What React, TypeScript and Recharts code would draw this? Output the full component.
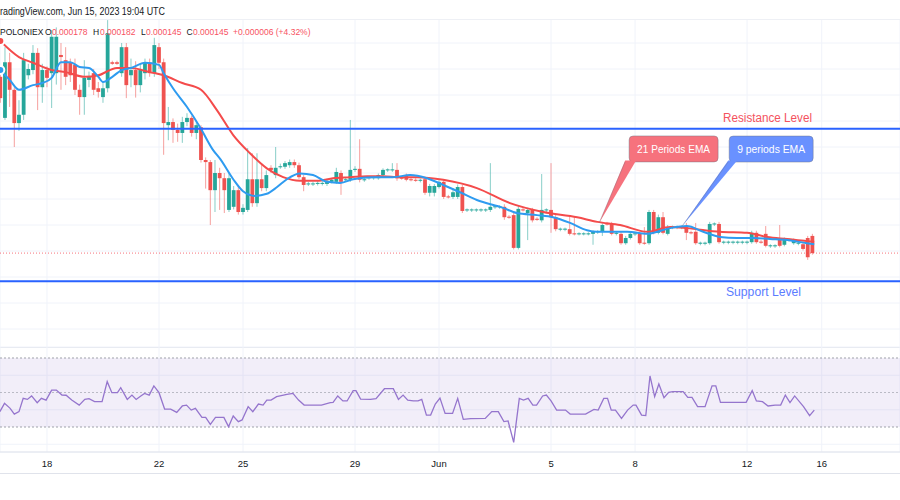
import React from 'react';
import {
  ComposedChart,
  Bar,
  Line,
  XAxis,
  YAxis,
  CartesianGrid,
  ReferenceLine,
  ReferenceArea,
  ReferenceDot,
} from 'recharts';

// ---- data (prices in units of 1e-6) ----
const FIRST_SLOT = -10; // 4h slots counted from May 18 00:00

// [open, high, low, close]
const candles: [number, number, number, number][] = [
  [178.5, 179.5, 173.5, 174.4], [170.6, 184.2, 170.2, 181.3], [181.3, 183.1, 172.7, 176.0], [176.0, 176.5, 165.0, 169.6],
  [169.6, 174.0, 168.1, 171.2], [171.2, 183.1, 170.2, 181.7], [178.8, 181.0, 178.0, 180.0], [179.8, 184.6, 179.0, 183.1],
  [183.1, 184.0, 172.1, 176.5], [176.5, 181.0, 173.5, 179.8], [179.8, 180.5, 176.5, 178.3], [179.2, 187.5, 172.5, 186.2],
  [179.2, 188.0, 177.0, 186.2], [182.7, 185.0, 176.0, 182.3], [181.7, 184.2, 176.9, 178.5], [181.2, 182.0, 177.5, 178.8],
  [180.8, 182.0, 175.0, 176.0], [176.0, 177.0, 171.2, 174.6], [174.6, 181.7, 171.2, 178.3], [177.9, 179.5, 176.5, 178.5],
  [179.2, 180.0, 175.0, 176.0], [176.3, 177.5, 174.5, 175.6], [174.6, 177.5, 173.5, 176.3], [176.3, 189.4, 175.5, 186.9],
  [181.3, 181.6, 180.8, 181.0], [181.3, 181.6, 180.8, 181.0], [179.2, 185.0, 178.5, 184.2], [184.2, 185.0, 174.4, 176.9],
  [178.8, 182.0, 176.5, 179.8], [179.8, 181.5, 174.5, 176.9], [176.9, 181.0, 175.5, 179.8], [179.2, 182.0, 178.0, 181.2],
  [181.2, 182.0, 178.5, 179.2], [179.2, 186.0, 178.5, 184.6], [184.2, 185.0, 180.0, 181.2], [181.3, 182.0, 163.5, 169.6],
  [169.2, 172.7, 166.3, 169.8], [169.8, 170.5, 165.8, 168.3], [168.3, 169.5, 166.0, 167.7], [167.7, 170.8, 165.8, 169.8],
  [169.8, 171.5, 169.0, 170.6], [170.6, 171.0, 167.0, 167.7], [167.7, 170.0, 166.5, 169.2], [168.8, 169.2, 162.0, 162.5],
  [162.5, 163.0, 157.0, 162.1], [162.1, 162.5, 150.0, 156.7], [156.7, 162.5, 152.5, 160.0], [160.0, 161.0, 152.9, 159.0],
  [159.0, 160.0, 152.3, 156.7], [152.9, 160.0, 152.5, 159.0], [153.5, 157.5, 153.0, 156.7], [156.7, 157.5, 152.0, 152.5],
  [152.5, 154.0, 152.0, 153.3], [152.9, 164.8, 152.5, 158.8], [158.8, 163.8, 153.5, 154.2], [154.2, 163.8, 153.5, 158.8],
  [158.8, 161.9, 156.5, 157.1], [157.1, 160.5, 156.5, 159.6], [161.0, 161.5, 160.0, 160.6], [159.6, 165.0, 159.0, 161.0],
  [161.1, 161.8, 160.8, 161.3], [161.2, 162.3, 160.8, 161.9], [161.5, 162.6, 161.0, 162.1], [162.1, 162.6, 161.0, 161.5],
  [161.5, 162.0, 158.8, 159.2], [159.2, 159.6, 156.5, 157.7], [157.8, 158.3, 157.5, 158.0], [157.8, 158.3, 157.5, 158.0],
  [157.9, 158.4, 157.6, 158.1], [157.9, 158.4, 157.6, 158.1], [157.9, 158.9, 157.5, 158.5], [158.3, 159.0, 158.0, 158.7],
  [158.3, 161.0, 157.9, 160.2], [160.0, 160.5, 155.8, 158.3], [158.6, 159.2, 158.3, 158.8], [158.7, 170.2, 158.3, 160.6],
  [160.6, 161.3, 160.2, 160.8], [160.8, 166.5, 158.2, 158.7], [158.6, 159.0, 158.3, 158.8], [159.0, 159.4, 158.7, 159.2],
  [159.0, 159.4, 158.7, 159.2], [159.0, 159.9, 158.7, 159.6], [159.6, 160.9, 159.3, 160.6], [160.5, 160.9, 160.2, 160.7],
  [160.5, 161.9, 160.2, 160.7], [160.6, 161.9, 158.5, 159.0], [159.1, 159.4, 158.7, 158.9], [159.6, 159.9, 158.4, 158.7],
  [158.8, 159.1, 158.4, 158.6], [158.7, 159.0, 158.3, 158.5], [158.5, 158.9, 158.2, 158.7], [158.8, 159.2, 155.8, 156.2],
  [156.2, 157.9, 155.5, 157.5], [156.2, 157.9, 155.5, 157.5], [157.3, 158.6, 157.0, 158.3], [158.3, 158.8, 155.0, 155.4],
  [155.5, 155.8, 155.1, 155.3], [155.4, 157.1, 155.0, 156.3], [155.4, 157.8, 155.0, 157.3], [157.3, 157.7, 152.3, 152.7],
  [152.8, 153.2, 152.5, 153.0], [152.8, 153.2, 152.5, 153.0], [152.8, 153.2, 152.5, 153.0], [152.8, 153.2, 152.5, 153.0],
  [152.8, 153.2, 152.5, 153.0], [152.9, 161.9, 152.5, 153.5], [153.4, 153.8, 153.1, 153.6], [153.4, 153.8, 153.1, 153.6],
  [153.5, 154.0, 151.0, 151.5], [151.6, 151.9, 151.2, 151.4], [151.9, 152.3, 145.3, 145.6], [145.6, 153.8, 145.3, 153.1],
  [153.0, 153.3, 152.6, 152.8], [152.3, 153.3, 147.1, 152.9], [152.9, 153.3, 150.5, 150.9], [151.2, 151.5, 150.8, 151.0],
  [150.9, 159.8, 150.5, 152.9], [152.8, 153.2, 152.5, 153.0], [152.9, 161.9, 148.5, 151.5], [151.5, 152.0, 148.8, 149.2],
  [149.1, 149.5, 148.8, 149.3], [149.1, 149.5, 148.8, 149.3], [149.2, 151.9, 148.0, 148.3], [148.4, 151.7, 148.0, 148.2],
  [148.2, 148.6, 148.0, 148.4], [148.2, 148.6, 148.0, 148.4], [148.2, 148.6, 148.0, 148.4], [148.3, 149.0, 146.2, 148.7],
  [148.6, 149.0, 148.3, 148.8], [148.7, 150.3, 147.9, 150.0], [150.3, 150.6, 149.9, 150.1], [150.2, 150.6, 148.0, 148.3],
  [148.3, 148.7, 148.0, 148.5], [148.3, 148.7, 146.2, 146.5], [146.5, 147.9, 146.2, 147.5], [147.5, 148.7, 147.2, 148.3],
  [148.2, 148.6, 147.9, 148.4], [148.3, 148.7, 146.2, 146.5], [146.6, 149.6, 146.2, 146.4], [146.5, 152.9, 146.2, 152.5],
  [152.5, 152.9, 148.2, 148.5], [148.5, 152.0, 148.2, 151.5], [151.5, 152.5, 148.2, 148.5], [148.3, 150.0, 148.0, 149.6],
  [149.5, 149.9, 149.2, 149.7], [149.5, 149.9, 149.2, 149.7], [149.5, 149.9, 149.2, 149.7], [149.6, 150.4, 147.1, 148.5],
  [148.6, 148.9, 148.2, 148.4], [148.7, 150.4, 146.2, 146.5], [146.4, 146.8, 146.1, 146.6], [146.4, 146.8, 146.1, 146.6],
  [146.5, 150.6, 146.2, 150.2], [150.1, 150.5, 149.8, 150.3], [150.2, 150.6, 146.4, 146.7], [146.6, 147.0, 146.3, 146.8],
  [146.6, 147.0, 146.3, 146.8], [146.6, 147.0, 146.3, 146.8], [146.6, 147.0, 146.3, 146.8], [146.6, 147.0, 146.3, 146.8],
  [146.6, 147.0, 146.3, 146.8], [146.7, 148.9, 146.4, 148.5], [148.5, 148.9, 146.4, 146.7], [146.8, 147.1, 146.4, 146.6],
  [148.3, 149.8, 145.7, 146.0], [145.9, 146.3, 145.6, 146.1], [145.9, 146.3, 145.6, 146.1], [147.3, 150.0, 145.7, 146.0],
  [146.2, 147.6, 145.9, 147.3], [147.0, 147.4, 146.8, 147.2], [146.5, 147.4, 146.2, 147.1], [146.4, 146.8, 146.1, 146.6],
  [146.3, 146.6, 145.1, 145.4], [147.5, 147.9, 143.3, 143.8], [147.9, 148.3, 144.3, 144.6],
];

// [slot, value]
const ema21: [number, number][] = [
  [-10, 185.4], [-6, 182.3], [-3, 181.2], [1, 179.8], [4, 179.4], [8, 178.5], [11, 178.8], [15, 180.2], [18, 180.2],
  [22, 179.4], [25, 178.8], [29, 177.3], [33, 176.0], [36.4, 172.1], [39.9, 167.3], [43.5, 163.8], [47.1, 160.9],
  [50.6, 159.2], [54.2, 158.5], [57.9, 158.5], [61.3, 159.0], [64.9, 159.2], [68.6, 159.4], [72, 159.4], [75.6, 159.2],
  [79.3, 159.2], [84.9, 158.7], [92.1, 157.1], [99.2, 154.2], [106.3, 152.5], [113.6, 151.5], [117.9, 150.6],
  [122.8, 150.0], [128.6, 148.7], [133.5, 149.6], [137.1, 149.4], [144.2, 148.7], [150, 148.5], [154.3, 147.7],
  [158.6, 147.3], [162.8, 146.9], [164.4, 146.8],
];

const ema9: [number, number][] = [
  [-10, 179.8], [-8, 177.9], [-6, 176.0], [-3, 176.9], [-1, 177.3], [1, 178.3], [3, 181.3], [5, 181.3], [7, 180.4],
  [9, 180.2], [11, 178.5], [12, 177.5], [14, 178.5], [16, 179.8], [18, 180.2], [21, 181.2], [24, 180.8], [25, 179.2],
  [27, 176.3], [30, 172.7], [32.8, 168.8], [35.6, 164.4], [37.1, 162.7], [39.9, 158.8], [42, 156.5], [44.6, 155.6],
  [47.1, 156.0], [49.3, 157.3], [51.4, 158.8], [54.2, 159.9], [57, 159.6], [60, 158.3], [62.8, 158.1], [65.6, 158.8],
  [69.9, 159.2], [74.1, 159.2], [77.8, 159.6], [81.4, 159.0], [84.9, 157.7], [88.5, 156.3], [92.1, 154.8], [97.7, 153.3],
  [100.7, 152.3], [105, 151.9], [108.4, 151.5], [112.1, 150.4], [115.7, 149.0], [117.9, 148.7], [122.1, 148.7],
  [124.3, 148.7], [128.6, 148.3], [133.5, 149.4], [137.1, 149.8], [140.6, 148.7], [144.2, 147.7], [147.8, 147.5],
  [151.3, 147.5], [154.9, 147.3], [158.6, 147.1], [162.8, 146.5], [164.4, 146.3],
];

const rsi: [number, number][] = [
  [-10.1, 38.9], [-9.1, 43.7], [-7.9, 40.8], [-7, 37.5], [-6, 38.9], [-5.1, 46.6], [-4.2, 46], [-3.3, 48], [-2.1, 44.1],
  [-1.2, 46.6], [-0.2, 45.6], [1, 51.4], [2, 51.4], [3.2, 48.5], [4.1, 48.4], [5.3, 45.6], [6.9, 42.7], [8.1, 46],
  [9, 46.4], [10.2, 44.7], [11.8, 44.7], [12.9, 56.3], [13.9, 49.9], [15.1, 49.9], [15.8, 52.8], [17.2, 46], [18.2, 48.5],
  [19.1, 46], [20.1, 48], [20.9, 49.5], [21.9, 48.5], [22.9, 53.8], [24, 49.9], [25.2, 40.4], [26.5, 40.4], [27.8, 38.5],
  [29, 42.2], [29.9, 42.7], [30.9, 39.8], [31.8, 40.8], [33.2, 35.6], [34, 35.6], [35, 31.5], [36.1, 35.6], [37.9, 35.6],
  [38.9, 30.2], [39.9, 36.4], [41, 33.1], [41.8, 34.1], [43.1, 41.8], [44.1, 38.9], [45.3, 43.3], [46.3, 42.7],
  [47.1, 45.6], [48, 45.6], [49.2, 47.6], [51.4, 48.9], [52.7, 49.5], [53.9, 45.6], [55.1, 42.7], [58.8, 42.7],
  [60.7, 44.1], [61.3, 44.3], [62.3, 48], [63.4, 45.1], [64.3, 45.1], [65.6, 51.1], [66.2, 51.1], [67.2, 46.2],
  [69.3, 46], [70.5, 46.4], [72.3, 52.2], [74.2, 52.2], [75.3, 46], [76.3, 48.5], [77.3, 45.6], [78.5, 45.1],
  [79.5, 45.1], [80.3, 46], [81.3, 36.9], [82.2, 36.9], [83.2, 43.3], [84.2, 46.8], [85.3, 37.9], [86.9, 37.9],
  [88, 46.6], [89.2, 34.4], [90.8, 34.8], [93.9, 35], [95.3, 38.9], [96.7, 38.9], [97.9, 33.1], [98.8, 33.5], [100, 21.1],
  [101.2, 46.6], [102.1, 45.6], [103.1, 46.6], [104.1, 42.7], [104.9, 42.7], [106.2, 48], [107, 48.5], [108, 45.1],
  [109.2, 39.8], [111.1, 39.8], [112.1, 37.5], [115.4, 37.5], [117.2, 40.2], [118.1, 39.8], [119.3, 46.6], [120.1, 46.6],
  [120.9, 39.8], [121.8, 39.8], [123.1, 35], [124.4, 39.8], [125.6, 42.7], [126.2, 42.7], [127.4, 36.9], [128.3, 36.6],
  [129.2, 59.6], [130.2, 47.6], [131.1, 54.9], [132.2, 47], [133.2, 50.1], [134.1, 50.5], [136.3, 50.5], [137.3, 47.2],
  [138.2, 47.2], [139.4, 41.8], [141, 41.8], [142.5, 53.9], [143.3, 53.9], [144.3, 44.3], [149.8, 44.3], [151.1, 51.1],
  [152, 45.1], [153.3, 44.7], [154.5, 42.2], [156, 42.7], [157.2, 42.7], [158.2, 48.5], [159.2, 44.1], [160.2, 48],
  [162.1, 41.8], [163.4, 36.6], [164.4, 39.8],
];

const tickSlots = [0, 24, 42, 66, 84, 108, 126, 150, 166];
const tickLabels = ['18', '22', '25', '29', 'Jun', '5', '8', '12', '16'];
const priceGrid = [130, 135, 140, 145, 150, 155, 160, 165, 170, 175, 180, 185, 190];
const rsiGrid = [20, 40, 60];
const rsiLevels = [30, 50, 70];
const resistanceLevel = 168.5;
const supportLevel = 139.2;
const lastPrice = 144.6;
const ema21Anchor: [number, number] = [118.3, 150.4];
const ema9Anchor: [number, number] = [136.1, 149.8];

// legend segments: [text, isValue]
const legendParts: [string, boolean][] = [
  ['POLONIEX', false],
  ['O', false], ['0.000178', true],
  ['H', false], ['0.000182', true],
  ['L', false], ['0.000145', true],
  ['C', false], ['0.000145', true],
  ['+0.000006 (+4.32%)', true],
];
const legendX = [0, 45, 52, 93, 100, 141, 146, 186.5, 193, 233];

// ---- derived tables ----
const candleData = candles.map(([o, h, l, c], i) => ({ s: FIRST_SLOT + i, o, h, l, c, range: [l, h] }));
const ema21Data = ema21.map(([s, v]) => ({ s, v }));
const ema9Data = ema9.map(([s, v]) => ({ s, v }));
const rsiData = rsi.map(([s, v]) => ({ s, v }));

// ---- layout ----
const X_DOMAIN: [number, number] = [-10.07, 182.77];
const P_DOMAIN: [number, number] = [126.54, 193.27];
const R_DOMAIN: [number, number] = [15.51, 76.38];
const UP = '#26A69A';
const DOWN = '#EF5350';
const FONT = '"Liberation Sans", Arial, sans-serif';

const CandleShape = (props: any) => {
  const { x, y, width, height, payload } = props;
  if (x == null || y == null || !payload) return null;
  const { o, h, l, c } = payload;
  const top = Math.min(y, y + height);
  const hgt = Math.abs(height);
  const yOf = (v: number) => (h === l ? top : top + ((h - v) / (h - l)) * hgt);
  const color = c >= o ? UP : DOWN;
  const cx = x + width / 2;
  const bTop = yOf(Math.max(o, c));
  const bBot = yOf(Math.min(o, c));
  return (
    <g>
      <line x1={cx} x2={cx} y1={top} y2={top + hgt} stroke={color} strokeOpacity={0.55} strokeWidth={1} />
      <rect x={cx - 1.9} y={bTop} width={3.8} height={Math.max(1, bBot - bTop)} fill={color} />
    </g>
  );
};

const makeCallout = (
  text: string,
  fill: string,
  box: { dx: number; dy: number; w: number; h: number; t0: number; t1: number; tl: number }
) => (props: any) => {
  const { cx, cy } = props;
  if (cx == null || cy == null) return null;
  const bx = cx + box.dx;
  const by = cy + box.dy;
  const bottom = by + box.h;
  return (
    <g>
      <rect x={bx} y={by} width={box.w} height={box.h} rx={4} fill={fill} stroke="rgba(110,115,130,0.55)" strokeWidth={0.8} />
      <polygon
        points={`${cx},${cy} ${cx + box.t0},${bottom - 1.5} ${cx + box.t1},${bottom - 1.5}`}
        fill={fill}
        stroke="none"
      />
      <line x1={cx} y1={cy} x2={cx + box.t0} y2={bottom} stroke="rgba(110,115,130,0.55)" strokeWidth={0.6} />
      <text
        x={bx + box.w / 2}
        y={by + box.h / 2 + 4}
        textAnchor="middle"
        fontSize={11}
        fill="#ffffff"
        fontFamily={FONT}
        textLength={box.tl}
        lengthAdjust="spacingAndGlyphs"
      >
        {text}
      </text>
    </g>
  );
};

const RedCallout = makeCallout('21 Periods EMA', '#F6727D', { dx: 30, dy: -87, w: 89, h: 26, t0: 26, t1: 37, tl: 73 });
const BlueCallout = makeCallout('9 periods EMA', '#6991FF', { dx: 47, dy: -90, w: 84, h: 26, t0: 46, t1: 55, tl: 68 });

const T = (p: { x: number; y: number; tl: number; fill: string; size: number; children: React.ReactNode }) => (
  <text
    x={p.x}
    y={p.y}
    fontSize={p.size}
    fill={p.fill}
    fontFamily={FONT}
    textLength={p.tl}
    lengthAdjust="spacingAndGlyphs"
  >
    {p.children}
  </text>
);

export default function App() {
  const dark = '#131722';
  const red = '#F7525F';
  return (
    <div
      style={{
        position: 'absolute',
        left: 0,
        top: 0,
        width: 900,
        height: 500,
        background: '#ffffff',
        overflow: 'hidden',
        fontFamily: FONT,
      }}
    >
      <div style={{ position: 'absolute', left: 0, top: 0 }}>
        <ComposedChart width={900} height={347} data={candleData} margin={{ top: 0, right: 0, bottom: 0, left: 0 }}>
          <CartesianGrid stroke="#F0F3FA" />
          <XAxis dataKey="s" type="number" domain={X_DOMAIN} ticks={tickSlots} hide allowDataOverflow />
          <YAxis type="number" domain={P_DOMAIN} ticks={priceGrid} hide allowDataOverflow />
          <Bar dataKey="range" barSize={4} isAnimationActive={false} shape={(p: any) => <CandleShape {...p} />} />
          <Line data={ema21Data} dataKey="v" type="monotone" stroke="#F44B4B" strokeWidth={2} dot={false} isAnimationActive={false} />
          <Line data={ema9Data} dataKey="v" type="monotone" stroke="#2E9BF0" strokeWidth={2} dot={false} isAnimationActive={false} />
          <ReferenceLine y={resistanceLevel} stroke="#2962FF" strokeWidth={2} />
          <ReferenceLine y={supportLevel} stroke="#2962FF" strokeWidth={2} />
          <ReferenceLine y={lastPrice} stroke="#F23645" strokeOpacity={0.7} strokeDasharray="1 2" />
          <ReferenceDot x={ema21Anchor[0]} y={ema21Anchor[1]} r={0} shape={RedCallout} />
          <ReferenceDot x={ema9Anchor[0]} y={ema9Anchor[1]} r={0} shape={BlueCallout} />
        </ComposedChart>
      </div>

      <div style={{ position: 'absolute', left: 0, top: 347, borderTop: '1px solid #E0E3EB', width: 900 }} />
      <div style={{ position: 'absolute', left: 0, top: 347 }}>
        <ComposedChart width={900} height={126} data={rsiData} margin={{ top: 0, right: 0, bottom: 0, left: 0 }}>
          <CartesianGrid stroke="#F0F3FA" />
          <XAxis
            dataKey="s"
            type="number"
            domain={X_DOMAIN}
            ticks={tickSlots}
            interval={0}
            allowDataOverflow
            height={21}
            axisLine={{ stroke: '#E0E3EB' }}
            tickLine={false}
            tick={{ fontSize: 9.5, fill: dark }}
            tickFormatter={(v: number) => tickLabels[tickSlots.indexOf(v)] ?? ''}
          />
          <YAxis type="number" domain={R_DOMAIN} ticks={rsiGrid} hide allowDataOverflow />
          <ReferenceArea y1={rsiLevels[0]} y2={rsiLevels[2]} fill="#7E57C2" fillOpacity={0.1} stroke="none" />
          {rsiLevels.map((lv) => (
            <ReferenceLine key={lv} y={lv} stroke="#9598A1" strokeDasharray="2 2" strokeOpacity={lv === 50 ? 0.6 : 0.9} />
          ))}
          <Line dataKey="v" type="linear" stroke="#9575CD" strokeWidth={1.3} dot={false} isAnimationActive={false} />
        </ComposedChart>
      </div>
      <div style={{ position: 'absolute', left: 0, top: 473, borderTop: '1px solid #E0E3EB', width: 900 }} />

      <svg width={900} height={500} style={{ position: 'absolute', left: 0, top: 0, pointerEvents: 'none' }}>
        <rect x={0} y={0} width={900} height={19} fill="#ffffff" />
        <line x1={0} x2={900} y1={19.5} y2={19.5} stroke="#EEF0F5" />
        <T x={0} y={15} tl={165} fill={dark} size={10.5}>radingView.com, Jun 15, 2023 19:04 UTC</T>
        {legendParts.map(([txt, isValue], i) => (
          <text key={i} x={legendX[i]} y={35} fontSize={8.5} fontFamily={FONT} fill={isValue ? red : dark}>
            {txt}
          </text>
        ))}
        <T x={723} y={122} tl={89} fill="#F4525E" size={12.5}>Resistance Level</T>
        <T x={726} y={296} tl={75} fill="#5B7CFF" size={12.5}>Support Level</T>
      </svg>
    </div>
  );
}
